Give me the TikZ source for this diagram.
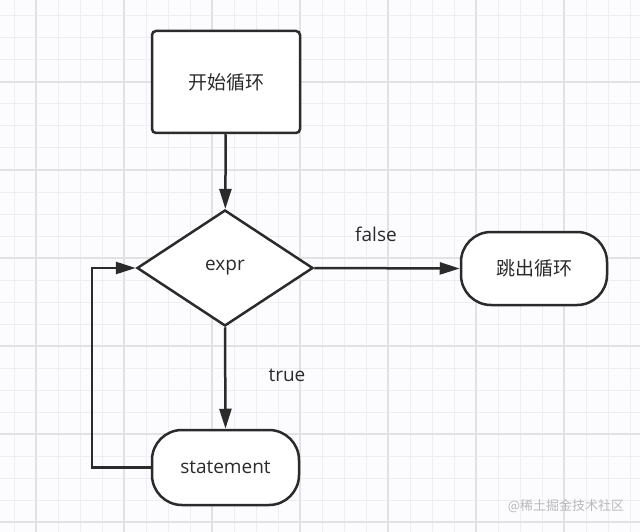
\documentclass[tikz,border=0pt]{standalone}
\usepackage{fontspec}
\setmainfont{Open Sans}
\newfontfamily\cjk{Noto Sans CJK SC}
\usetikzlibrary{shapes.geometric,arrows.meta}
\definecolor{ink}{HTML}{2B2B2B}
\definecolor{gridminor}{HTML}{EEEDF2}
\definecolor{gridmajor}{HTML}{E2E1E6}
\tikzset{
  flow/.style={draw=ink,line width=2.5pt,fill=white,text=ink,inner sep=0pt,
    font=\fontsize{19pt}{23pt}\selectfont},
  procbox/.style={flow,rectangle,rounded corners=4pt,minimum width=148pt,minimum height=102pt},
  decision/.style={flow,diamond,minimum width=176pt,minimum height=116pt},
  termbox/.style={flow,rectangle,rounded corners=30pt},
  arrow/.style={draw=ink,line width=2.5pt,-{Triangle[length=20pt,width=12pt]}},
  lbl/.style={text=ink,font=\fontsize{19pt}{23pt}\selectfont}
}
\begin{document}
\begin{tikzpicture}[x=1pt,y=-1pt]
  \fill[white!97!blue!40!white] (0,0) rectangle (640,532);
  \useasboundingbox (0,0) rectangle (640,532);
  % grid paper
  \foreach \x in {14,36,...,630}
    \draw[gridminor,line width=1pt] (\x,0) -- (\x,532);
  \foreach \y in {16,38,...,530}
    \draw[gridminor,line width=1pt] (0,\y) -- (640,\y);
  \foreach \x in {36,124,...,630}
    \draw[gridmajor,line width=1.2pt] (\x,0) -- (\x,532);
  \foreach \y in {82,170,...,530}
    \draw[gridmajor,line width=1.2pt] (0,\y) -- (640,\y);
  % nodes
  \node[procbox] (start) at (226,82) {\cjk 开始循环};
  \node[decision] (expr) at (225,268) {expr};
  \node[termbox,minimum width=146pt,minimum height=73pt] (exit) at (534,268.5) {\cjk 跳出循环};
  \node[termbox,minimum width=147pt,minimum height=75pt] (stmt) at (225.5,467.5) {statement};
  % connectors
  \draw[arrow] (start) -- (expr);
  \draw[arrow] (expr.east) -- (exit.west);
  \draw[arrow] (expr.south) -- (stmt.north);
  \draw[arrow] (stmt.west) -- ++(-59,0) |- (expr.west);
  \node[lbl] (false) at (376,234) {false};
  \node[lbl] (true) at (287,375) {true};
  \node[text=gray!55,font=\cjk\fontsize{13pt}{15pt}\selectfont] (mark) at (566,506) {@稀土掘金技术社区};
\end{tikzpicture}
\end{document}
